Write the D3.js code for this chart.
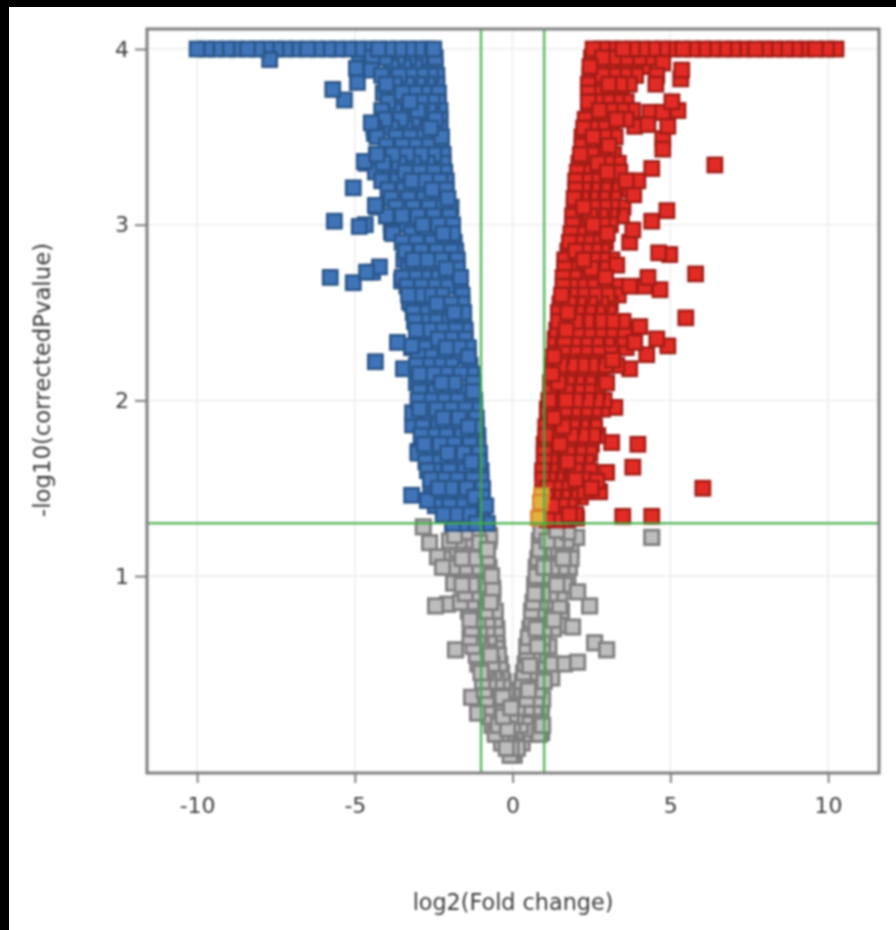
<!DOCTYPE html>
<html>
<head>
<meta charset="utf-8">
<script src="https://cdn.jsdelivr.net/npm/d3@7"></script>
<style>
html, body { margin: 0; padding: 0; background: #fff; overflow: hidden; }
svg { display: block; filter: blur(1px); }
#bar_top { position: absolute; left: 0; top: 0; width: 896px; height: 7px; background: #000; }
#bar_left { position: absolute; left: 0; top: 0; width: 9px; height: 930px; background: #000; }
</style>
</head>
<body>
<svg id="chart" width="896" height="930"></svg>
<div id="bar_top"></div>
<div id="bar_left"></div>
<script>
var xTicks = [-10, -5, 0, 5, 10];
var yTicks = [1, 2, 3, 4];
var xCuts = [-1, 1];
var yCut = 1.3;

// saturated row at the top of the plot
var blueTop = [-10, -9.7, -9.4, -9.05, -8.75, -8.4, -8.1, -7.8, -7.5, -7.2, -6.85, -6.5, -6.2, -5.85, -5.55, -5.2, -4.9, -4.55, -4.25, -3.95, -3.6, -3.3, -3, -2.7, -2.5];
var redTop = [2.55, 2.85, 3.15, 3.5, 3.8, 4.1, 4.45, 4.75, 5.05, 5.4, 5.7, 6.05, 6.35, 6.7, 7, 7.35, 7.7, 8, 8.3, 8.65, 8.95, 9.3, 9.6, 9.95, 10.25];

// rows of the dense clouds: one y level, a list of x values
var blueLevels = [3.95, 3.9, 3.85, 3.8, 3.75, 3.7, 3.65, 3.6, 3.55, 3.5, 3.45, 3.4, 3.35, 3.3, 3.25, 3.2, 3.15, 3.1, 3.05, 3, 2.95, 2.9, 2.85, 2.8, 2.75, 2.7, 2.65, 2.6, 2.55, 2.5, 2.45, 2.4, 2.35, 2.3, 2.25, 2.2, 2.15, 2.1, 2.05, 2, 1.95, 1.9, 1.85, 1.8, 1.75, 1.7, 1.65, 1.6, 1.55, 1.5, 1.45, 1.4, 1.35, 1.3];
var blueRows = [
  [-4.85, -4.45, -4.05, -3.65, -3.3, -2.95, -2.65, -2.45],
  [-4.5, -3.85, -3.45, -3.1, -2.8, -2.45],
  [-4.15, -3.6, -3.25, -2.9, -2.6, -2.4],
  [-4, -3.75, -3.35, -3, -2.7, -2.4],
  [-4.1, -3.5, -3.1, -2.8, -2.35],
  [-3.95, -3.6, -3.25, -2.9, -2.55, -2.35],
  [-4.15, -3.75, -3.35, -3, -2.65, -2.3],
  [-4.05, -3.55, -3.15, -2.8, -2.45, -2.3],
  [-4.4, -3.85, -3.4, -3, -2.6, -2.3],
  [-4.3, -3.7, -3.25, -2.85, -2.45, -2.25],
  [-4, -3.5, -3.1, -2.65, -2.25],
  [-4.3, -3.8, -3.35, -2.9, -2.5, -2.2],
  [-4.65, -4.1, -3.6, -3.15, -2.7, -2.2],
  [-4.35, -3.9, -3.4, -2.95, -2.5, -2.15],
  [-4.15, -3.65, -3.2, -2.75, -2.3, -2.1],
  [-3.95, -3.45, -3, -2.55, -2.1],
  [-3.85, -3.3, -2.8, -2.35, -2.05],
  [-4.3, -3.7, -3.15, -2.65, -2.2, -1.95],
  [-4, -3.5, -3, -2.5, -2],
  [-3.85, -3.35, -2.85, -2.35, -1.9],
  [-3.8, -3.2, -2.7, -2.2, -1.9],
  [-3.5, -3.05, -2.55, -2.05, -1.85],
  [-3.4, -2.9, -2.4, -1.95, -1.8],
  [-3.45, -3.15, -2.7, -2.25, -1.75],
  [-3.3, -3, -2.55, -2.1, -1.75],
  [-3.5, -3.1, -2.8, -2.35, -1.95, -1.65],
  [-3.35, -2.9, -2.5, -2.1, -1.65],
  [-3.3, -3, -2.65, -2.25, -1.6],
  [-3.2, -2.8, -2.4, -1.95, -1.6],
  [-3.15, -2.7, -2.3, -1.85, -1.55],
  [-3.1, -2.85, -2.45, -2.05, -1.55],
  [-3.05, -2.65, -2.25, -1.8, -1.5],
  [-3, -2.75, -2.35, -1.95, -1.5],
  [-3.2, -2.8, -2.5, -2.1, -1.7, -1.4],
  [-3, -2.6, -2.2, -1.8, -1.4],
  [-3.05, -2.7, -2.35, -1.95, -1.35],
  [-2.95, -2.5, -2.1, -1.65, -1.3],
  [-3.05, -2.75, -2.25, -1.85, -1.25],
  [-2.95, -2.45, -2, -1.55, -1.25],
  [-3, -2.6, -2.2, -1.75, -1.2],
  [-2.95, -2.4, -1.95, -1.5, -1.2],
  [-3.15, -2.75, -2.2, -1.7, -1.15],
  [-2.85, -2.35, -1.9, -1.4, -1.15],
  [-2.9, -2.55, -2.1, -1.6, -1.1],
  [-2.8, -2.3, -1.85, -1.35, -1.1],
  [-3, -2.6, -2.05, -1.55, -1.05],
  [-2.75, -2.3, -1.8, -1.3, -1.05],
  [-2.7, -2.5, -2, -1.5, -1],
  [-2.6, -2.2, -1.75, -1.25, -1],
  [-2.6, -2.35, -1.95, -1.45, -0.95],
  [-2.5, -2.1, -1.7, -1.2, -0.95],
  [-2.45, -2, -1.55, -1.1, -0.85],
  [-2.2, -1.8, -1.35, -0.95],
  [-1.9, -1.5, -1.15, -0.8]
];
var blueOutX = [-7.7, -5.7, -5.33, -4.95, -4.92, -4.48, -4.48, -4.38, -4.7, -4.32, -5.05, -4.35, -5.65, -4.86, -4.67, -3.84, -5.78, -5.05, -4.63, -4.22, -4.44, -3.52, -3.27, -3.11, -3.65, -4.35, -3.46, -3.2, -3.17, -3.17, -3, -3.2, -2.7];
var blueOutY = [3.94, 3.77, 3.71, 3.89, 3.81, 3.88, 3.58, 3.52, 3.36, 3.4, 3.21, 3.11, 3.02, 2.99, 3, 2.96, 2.7, 2.67, 2.73, 2.76, 2.73, 2.68, 2.56, 2.45, 2.33, 2.22, 2.18, 2.31, 1.93, 1.86, 1.71, 1.46, 1.43];

var redLevels = [3.95, 3.9, 3.85, 3.8, 3.75, 3.7, 3.65, 3.6, 3.55, 3.5, 3.45, 3.4, 3.35, 3.3, 3.25, 3.2, 3.15, 3.1, 3.05, 3, 2.95, 2.9, 2.85, 2.8, 2.75, 2.7, 2.65, 2.6, 2.55, 2.5, 2.45, 2.4, 2.35, 2.3, 2.25, 2.2, 2.15, 2.1, 2.05, 2, 1.95, 1.9, 1.85, 1.8, 1.75, 1.7, 1.65, 1.6, 1.55, 1.5, 1.45, 1.4, 1.35, 1.32];
var redRows = [
  [2.5, 2.85, 3.2, 3.6, 4, 4.35, 4.75],
  [2.45, 2.75, 3.1, 3.5, 3.85, 4.2],
  [2.45, 2.85, 3.2, 3.55, 3.9],
  [2.4, 2.7, 3.05, 3.4, 3.7],
  [2.4, 2.8, 3.15, 3.45],
  [2.4, 2.65, 3, 3.3, 3.6],
  [2.4, 2.75, 3.1, 3.45, 3.8],
  [2.3, 2.6, 2.95, 3.3, 3.6],
  [2.25, 2.5, 2.85, 3.15],
  [2.2, 2.55, 2.9, 3.25],
  [2.2, 2.45, 2.75, 3.05],
  [2.15, 2.5, 2.85, 3.2],
  [2.1, 2.4, 2.7, 3, 3.35],
  [2.05, 2.35, 2.65, 3, 3.4],
  [2, 2.3, 2.6, 2.95, 3.3, 3.6],
  [2, 2.25, 2.55, 2.9, 3.25, 3.5],
  [1.95, 2.2, 2.5, 2.85, 3.2],
  [1.95, 2.25, 2.55, 2.9, 3.15, 3.5],
  [1.9, 2.15, 2.45, 2.8, 3.1, 3.45],
  [1.9, 2.2, 2.55, 2.85, 3.1],
  [1.85, 2.1, 2.4, 2.7, 3],
  [1.8, 2.05, 2.35, 2.65, 2.95],
  [1.75, 2, 2.3, 2.6, 2.85],
  [1.65, 1.95, 2.25, 2.55, 2.85, 3.15],
  [1.65, 1.9, 2.2, 2.5, 2.85],
  [1.6, 1.95, 2.3, 2.6, 2.95],
  [1.6, 1.85, 2.15, 2.5, 2.9, 3.3],
  [1.55, 1.85, 2.2, 2.6, 3, 3.35],
  [1.5, 1.8, 2.1, 2.45, 2.8, 3.1],
  [1.45, 1.75, 2.05, 2.4, 2.7, 3.05],
  [1.45, 1.7, 2, 2.35, 2.75, 3.15, 3.5],
  [1.4, 1.7, 2.05, 2.4, 2.75, 3.1, 3.55],
  [1.35, 1.65, 1.95, 2.3, 2.65, 3, 3.4],
  [1.35, 1.6, 1.95, 2.3, 2.7, 3.1, 3.6],
  [1.3, 1.55, 1.85, 2.2, 2.55, 2.9],
  [1.27, 1.5, 1.85, 2.2, 2.5, 2.95, 3.3],
  [1.25, 1.5, 1.8, 2.1, 2.45, 2.8],
  [1.2, 1.45, 1.75, 2.05, 2.4, 2.75],
  [1.2, 1.4, 1.7, 2.05, 2.4, 2.7],
  [1.15, 1.35, 1.7, 2, 2.35, 2.65, 2.9],
  [1.1, 1.35, 1.65, 1.95, 2.3, 2.6, 2.85],
  [1.1, 1.3, 1.6, 1.95, 2.25, 2.55],
  [1.05, 1.3, 1.6, 1.9, 2.2, 2.6],
  [1.05, 1.25, 1.55, 1.85, 2.2, 2.55, 2.7],
  [1, 1.25, 1.5, 1.8, 2.1, 2.5],
  [1, 1.2, 1.5, 1.75, 2.1, 2.45],
  [1, 1.2, 1.45, 1.75, 2.05, 2.35],
  [0.95, 1.2, 1.45, 1.7, 2, 2.45],
  [0.95, 1.15, 1.4, 1.7, 2, 2.3],
  [1.1, 1.35, 1.65, 1.95, 2.2, 2.5],
  [1.05, 1.3, 1.6, 1.9, 2.15],
  [1, 1.25, 1.55, 1.8],
  [0.95, 1.2, 1.5, 1.8, 2],
  [1.1, 1.4, 1.7]
];
var redOutX = [5.36, 5.33, 4.54, 4.57, 5.24, 4.92, 4.76, 6.41, 4.41, 3.97, 3.84, 4.89, 4.41, 3.81, 3.71, 4.63, 4.98, 3.3, 5.8, 4.29, 4.67, 4.19, 3.71, 5.49, 4.57, 4.92, 4.25, 3.71, 4.03, 3.87, 3.17, 2.98, 3.71, 4.76, 4.35, 5.05, 4.76, 4.29, 3.87, 4.76, 3.24, 3.97, 3.81, 6.03, 3.49, 4.41, 3.14, 2.98, 2.67, 2.76, 2.29, 2.03];
var redOutY = [3.88, 3.83, 3.8, 3.85, 3.65, 3.56, 3.43, 3.34, 3.32, 3.25, 3.17, 3.08, 3.02, 2.97, 2.9, 2.84, 2.83, 2.77, 2.72, 2.7, 2.63, 2.65, 2.65, 2.47, 2.35, 2.31, 2.26, 2.18, 2.42, 2.33, 2.23, 2.1, 3.87, 3.64, 3.64, 3.7, 3.92, 3.57, 3.56, 3.49, 1.96, 1.75, 1.62, 1.5, 1.34, 1.34, 1.76, 1.59, 1.54, 1.48, 1.48, 1.33];

var grayLevels = [1.25, 1.2, 1.15, 1.1, 1.05, 1, 0.95, 0.9, 0.85, 0.8, 0.75, 0.7, 0.65, 0.6, 0.55, 0.5, 0.45, 0.4, 0.35, 0.3, 0.25, 0.2, 0.15, 0.1, 0.05, 0.02, -0.02];
var grayRows = [
  [-1.9, -1.5, -1.1, -0.8, 0.9, 1.2, 1.5, 1.75],
  [-2, -1.7, -1.3, -0.95, -0.75, 0.85, 1.1, 1.4, 1.7],
  [-1.75, -1.4, -1, -0.8, 0.85, 1, 1.3, 1.6, 1.85],
  [-2.05, -1.6, -1.2, -0.8, 0.8, 1.05, 1.35, 1.6, 1.85],
  [-1.9, -1.5, -1.05, -0.75, 0.75, 1, 1.25, 1.55, 1.8],
  [-1.7, -1.35, -0.95, -0.67, 0.75, 0.95, 1.2, 1.45, 1.75],
  [-1.6, -1.3, -0.95, -0.7, 0.7, 0.9, 1.15, 1.4, 1.65],
  [-1.5, -1.25, -0.9, -0.63, 0.7, 0.95, 1.2, 1.5],
  [-1.65, -1.3, -1, -0.7, 0.65, 0.9, 1.15, 1.45],
  [-1.4, -1.15, -0.85, -0.55, 0.6, 0.85, 1.1, 1.55],
  [-1.35, -1.1, -0.8, -0.55, 0.6, 0.8, 1.05, 1.3],
  [-1.3, -1.05, -0.8, -0.5, 0.55, 0.75, 1, 1.3],
  [-1.35, -1.1, -0.75, -0.5, 0.5, 0.7, 0.95],
  [-1.25, -1, -0.75, -0.48, 0.45, 0.65, 0.95, 1.15],
  [-1.15, -0.95, -0.7, -0.45, 0.45, 0.65, 0.9],
  [-1.1, -0.9, -0.65, -0.4, 0.4, 0.6, 0.85, 1.05],
  [-1, -0.85, -0.6, -0.35, 0.35, 0.55, 0.85],
  [-0.95, -0.75, -0.5, -0.3, 0.3, 0.5, 0.8, 1],
  [-0.9, -0.7, -0.45, -0.2, 0.25, 0.5, 0.8],
  [-0.85, -0.65, -0.4, -0.15, 0.2, 0.45, 0.75, 0.95],
  [-0.8, -0.6, -0.35, -0.05, 0.15, 0.45, 0.7, 0.9],
  [-0.75, -0.55, -0.3, -0.05, 0.1, 0.4, 0.7, 0.9],
  [-0.65, -0.45, -0.2, 0, 0.25, 0.5, 0.75, 0.95],
  [-0.55, -0.4, -0.15, 0.1, 0.35, 0.6, 0.85],
  [-0.35, -0.2, -0.05, 0.1, 0.3],
  [-0.2, -0.05, 0.15],
  [-0.08, 0.05]
];
var grayOutX = [-2.83, -2.63, -2.22, -2.38, -1.87, -2.44, -2.06, -1.81, -1.3, -1.11, -0.83, 0.13, -0.03, 2.03, 4.41, 1.4, 2.06, 2.44, 1.49, 1.9, 1.49, 2.6, 2.98, 2.06, 1.65, 1.27, 1.24, 0.76, 0.79, 0.54, 0.48, 0.44, 0.54, 0.92, 0.92, -0.16, -0.32, -0.32, -0.51, -0.57, -0.51, -0.63, -0.63, -0.67, -0.73, -0.83, -1.3, -1.37, -1.84, -1.05];
var grayOutY = [1.28, 1.19, 1.05, 1.11, 0.96, 0.83, 0.84, 0.58, 0.31, 0.22, 0.3, 0.03, 0, 1.22, 1.22, 1.26, 0.91, 0.83, 0.83, 0.71, 0.72, 0.62, 0.58, 0.51, 0.5, 0.5, 0.42, 0.71, 0.6, 0.49, 0.33, 0.24, 0.13, 0.11, 0.28, 0.13, 0.22, 0.31, 0.4, 0.5, 0.59, 0.73, 0.93, 1, 1.23, 1.13, 1.05, 1.13, 1.23, 1.19];

var orangeX = [0.82, 0.88, 0.92];
var orangeY = [1.33, 1.42, 1.46];

var svg = d3.select("#chart");
var margin = {top: 29, right: 17, bottom: 157, left: 147};
var width = 896 - margin.left - margin.right;
var height = 930 - margin.top - margin.bottom;

var x = d3.scaleLinear().domain([-11.588, 11.613]).range([0, width]);
var y = d3.scaleLinear().domain([-0.121, 4.114]).range([height, 0]);

var chart_svg = svg.append("g").attr("transform", "translate(" + margin.left + "," + margin.top + ")");

// faint grid
chart_svg.append("g").selectAll("line").data(xTicks).enter().append("line")
  .attr("x1", function(d) { return x(d); }).attr("x2", function(d) { return x(d); })
  .attr("y1", 0).attr("y2", height)
  .attr("stroke", "#ededed").attr("stroke-width", 1.5);
chart_svg.append("g").selectAll("line").data(yTicks).enter().append("line")
  .attr("y1", function(d) { return y(d); }).attr("y2", function(d) { return y(d); })
  .attr("x1", 0).attr("x2", width)
  .attr("stroke", "#ededed").attr("stroke-width", 1.5);

function flatten(levels, rows) {
  var out = [];
  levels.forEach(function(lv, i) {
    rows[i].forEach(function(v) { out.push([v, lv]); });
  });
  return out;
}
function zip(xs, ys) {
  return xs.map(function(v, i) { return [v, ys[i]]; });
}
// paint order only, so the overlaps don't stack up in neat rows
function mixOrder(points) {
  return points.map(function(p, i) { return {p: p, k: (i * 7919) % 1009}; })
    .sort(function(a, b) { return a.k - b.k; })
    .map(function(d) { return d.p; });
}

function drawSquares(points, fill, stroke, sw) {
  chart_svg.append("g").selectAll("rect").data(mixOrder(points)).enter().append("rect")
    .attr("x", function(d) { return x(d[0]) - 7.2; })
    .attr("y", function(d) { return y(d[1]) - 7.2; })
    .attr("width", 14.4)
    .attr("height", 14.4)
    .attr("fill", fill)
    .attr("stroke", stroke)
    .attr("stroke-width", sw);
}

var grayPts = flatten(grayLevels, grayRows).concat(zip(grayOutX, grayOutY));
var bluePts = flatten(blueLevels, blueRows).concat(zip(blueOutX, blueOutY)).concat(blueTop.map(function(v) { return [v, 4]; }));
var redPts = flatten(redLevels, redRows).concat(zip(redOutX, redOutY)).concat(redTop.map(function(v) { return [v, 4]; }));

drawSquares(grayPts, "#bdbdbd", "#7f7f7f", 2.8);
drawSquares(bluePts, "#3f74b8", "#2a5588", 2.4);
drawSquares(redPts, "#e22b24", "#a01c16", 2.4);
drawSquares(zip(orangeX, orangeY), "#e3b03c", "#d9812b", 2.2);

// threshold lines
chart_svg.append("g").selectAll("line").data(xCuts).enter().append("line")
  .attr("x1", function(d) { return x(d); }).attr("x2", function(d) { return x(d); })
  .attr("y1", 0).attr("y2", height)
  .attr("stroke", "#3fae45").attr("stroke-opacity", 0.85).attr("stroke-width", 2.5);
chart_svg.append("line")
  .attr("x1", 0).attr("x2", width)
  .attr("y1", y(yCut)).attr("y2", y(yCut))
  .attr("stroke", "#3fae45").attr("stroke-opacity", 0.85).attr("stroke-width", 2.5);

// frame
chart_svg.append("rect")
  .attr("width", width).attr("height", height)
  .attr("fill", "none").attr("stroke", "#7f7f7f").attr("stroke-width", 3);

var xAxis = d3.axisBottom(x).tickValues(xTicks).tickFormat(function(d) { return String(d); }).tickSize(10).tickPadding(14);
var yAxis = d3.axisLeft(y).tickValues(yTicks).tickFormat(d3.format("d")).tickSize(12).tickPadding(6);

var gx = chart_svg.append("g").attr("transform", "translate(0," + height + ")").call(xAxis);
var gy = chart_svg.append("g").call(yAxis);
[gx, gy].forEach(function(g) {
  g.select(".domain").remove();
  g.selectAll("line").attr("stroke", "#7f7f7f").attr("stroke-width", 2);
  g.selectAll("text")
    .attr("fill", "#3c3c3c")
    .style("font-family", "'DejaVu Sans', sans-serif")
    .style("font-size", "22px");
});

svg.append("text")
  .text("log2(Fold change)")
  .attr("x", 513).attr("y", 910)
  .attr("text-anchor", "middle")
  .attr("fill", "#3c3c3c")
  .style("font-family", "'DejaVu Sans', sans-serif")
  .style("font-size", "22.3px");

svg.append("text")
  .text("-log10(correctedPvalue)")
  .attr("transform", "translate(50,380) rotate(-90)")
  .attr("text-anchor", "middle")
  .attr("fill", "#3c3c3c")
  .style("font-family", "'DejaVu Sans', sans-serif")
  .style("font-size", "22.8px");
</script>
</body>
</html>
